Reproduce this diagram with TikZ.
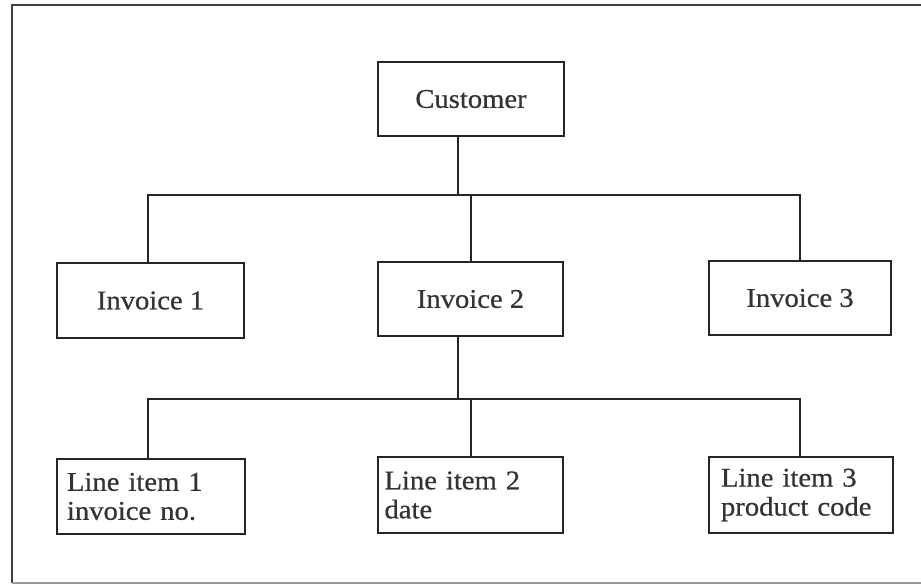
\documentclass[tikz,border=0pt]{standalone}
\usepackage{fontspec}
\setmainfont[FakeBold=0.6,FakeStretch=1.06]{Liberation Serif}
\begin{document}
\begin{tikzpicture}[x=1pt,y=-1pt,
  box/.style={draw=black!85, line width=2.4pt, rectangle, inner sep=0pt,
    font=\fontsize{27}{29}\selectfont, text=black!80},
  conn/.style={draw=black!85, line width=2pt}]
\useasboundingbox (0,0) rectangle (921,587);
\fill[white] (0,0) rectangle (921,587);
% frame
\draw[black!75, line width=2.4pt] (921,5) -- (12,5) -- (12,583);
\draw[black!40, line width=1.5pt] (12,583) -- (921,583);
% level 0
\node[box, minimum width=186pt, minimum height=74pt] (cust) at (471,99) {Customer};
% level 1
\node[box, minimum width=187pt, minimum height=75pt] (inv1) at (150.5,300.5) {Invoice 1};
\node[box, minimum width=185pt, minimum height=74pt] (inv2) at (470.5,299) {Invoice 2};
\node[box, minimum width=182pt, minimum height=74pt] (inv3) at (800,298) {Invoice 3};
% level 2
\node[box, minimum width=188pt, minimum height=75pt, align=left, text width=168pt] (li1) at (151,496.5) {Line item 1\\invoice no.};
\node[box, minimum width=185pt, minimum height=76pt, align=left, text width=172pt] (li2) at (470.5,495) {Line item 2\\date};
\node[box, minimum width=184pt, minimum height=76pt, align=left, text width=160pt] (li3) at (801,495) {Line item 3\\product code};
% connectors
\coordinate (bus1) at (0,195);
\coordinate (bus2) at (0,399);
\coordinate (ct) at ([xshift=-13pt]cust.south);
\coordinate (ib) at ([xshift=-12.5pt]inv2.south);
\draw[conn] (ct) -- (ct |- bus1);
\draw[conn] ([xshift=-2.5pt]inv1.north) -- ([xshift=-2.5pt]inv1.north |- bus1)
  -- (inv3.north |- bus1) -- (inv3.north);
\draw[conn] (inv2.north) -- (inv2.north |- bus1);
\draw[conn] (ib) -- (ib |- bus2);
\draw[conn] ([xshift=-3pt]li1.north) -- ([xshift=-3pt]li1.north |- bus2)
  -- ([xshift=-1pt]li3.north |- bus2) -- ([xshift=-1pt]li3.north);
\draw[conn] (li2.north) -- (li2.north |- bus2);
\end{tikzpicture}
\end{document}
